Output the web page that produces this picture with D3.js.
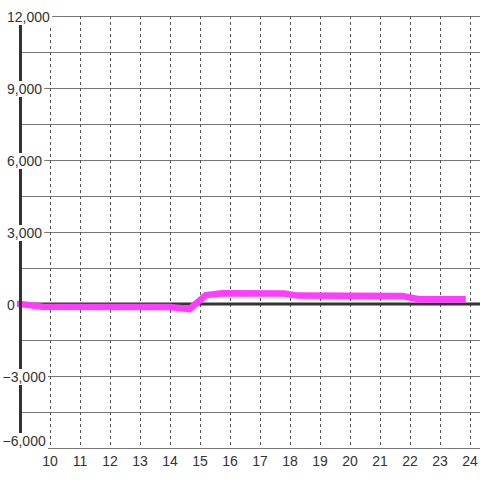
<!DOCTYPE html>
<html>
<head>
<meta charset="utf-8">
<script src="https://cdn.jsdelivr.net/npm/d3@7"></script>
<style>
	body { margin: 0; background: #fff; }
	text { font-family: "Liberation Sans", Arial, sans-serif; font-size: 14px; fill: #333; }
</style>
</head>
<body>
<svg id="chart" width="480" height="480"></svg>
<script>
// hours of the day and the reading at each break point of the line
var hours  = [9, 9.75, 14, 14.65, 15.2, 15.75, 17.8, 18.25, 21.75, 22.3, 23.75];
var values = [0, -110, -130, -210, 370, 450, 440, 350, 330, 200, 200];

var xTicks = [10, 11, 12, 13, 14, 15, 16, 17, 18, 19, 20, 21, 22, 23, 24];
var yTicks = [-6000, -3000, 0, 3000, 6000, 9000, 12000];
var yGrid = d3.range(-6000, 12001, 1500);

var margin = {top: 16, right: 0, bottom: 32, left: 20},
	width = 480 - margin.left - margin.right,
	height = 480 - margin.top - margin.bottom;

var x = d3.scaleLinear()
	.domain([9, 9 + width / 30])
	.range([margin.left, margin.left + width]);

var y = d3.scaleLinear()
	.domain([-6000, 12000])
	.range([margin.top + height, margin.top]);

var svg = d3.select("#chart");

// horizontal grid
svg.append("g")
	.selectAll("line")
	.data(yGrid)
	.enter().append("line")
	.attr("x1", x(9))
	.attr("x2", margin.left + width)
	.attr("y1", function(d) { return y(d) + 0.5; })
	.attr("y2", function(d) { return y(d) + 0.5; })
	.attr("stroke", "#777")
	.attr("stroke-width", 1);

// vertical dashed grid
svg.append("g")
	.selectAll("line")
	.data(xTicks)
	.enter().append("line")
	.attr("x1", function(d) { return x(d) + 0.5; })
	.attr("x2", function(d) { return x(d) + 0.5; })
	.attr("y1", y(12000))
	.attr("y2", y(-6000))
	.attr("stroke", "#555")
	.attr("stroke-dasharray", "3,3");

// zero line
svg.append("line")
	.attr("x1", x(9))
	.attr("x2", margin.left + width)
	.attr("y1", y(0))
	.attr("y2", y(0))
	.attr("stroke", "#333")
	.attr("stroke-width", 3);

// series
var line = d3.line()
	.x(function(d) { return x(d[0]); })
	.y(function(d) { return y(d[1]); });

svg.append("path")
	.datum(d3.zip(hours, values))
	.attr("d", line)
	.attr("fill", "none")
	.attr("stroke", "#ff3cff")
	.attr("stroke-width", 6.5)
	.attr("stroke-linecap", "square");

// left axis
svg.append("line")
	.attr("x1", x(9) + 0.5)
	.attr("x2", x(9) + 0.5)
	.attr("y1", y(12000))
	.attr("y2", y(-6000))
	.attr("stroke", "#333")
	.attr("stroke-width", 3);

// y labels with white backing, kept inside the plot at the bottom
var fmt = d3.format(",");
var yLab = svg.append("g")
	.selectAll("g")
	.data(yTicks)
	.enter().append("g");

yLab.append("rect")
	.attr("fill", "#fff");

yLab.append("text")
	.attr("x", function(d) { return d < 0 ? 2.5 : 7; })
	.attr("y", function(d) { return Math.min(y(d) + 6, y(-6000) - 2); })
	.text(function(d) { return fmt(d); });

yLab.each(function() {
	var g = d3.select(this);
	var bb = g.select("text").node().getBBox();
	g.select("rect")
		.attr("x", bb.x - 1)
		.attr("y", bb.y + bb.height / 2 - 8)
		.attr("width", bb.width + 3)
		.attr("height", 16);
});

// x labels
svg.append("g")
	.selectAll("text")
	.data(xTicks)
	.enter().append("text")
	.attr("x", function(d) { return x(d); })
	.attr("y", y(-6000) + 18)
	.attr("text-anchor", "middle")
	.text(function(d) { return d; });
</script>
</body>
</html>
